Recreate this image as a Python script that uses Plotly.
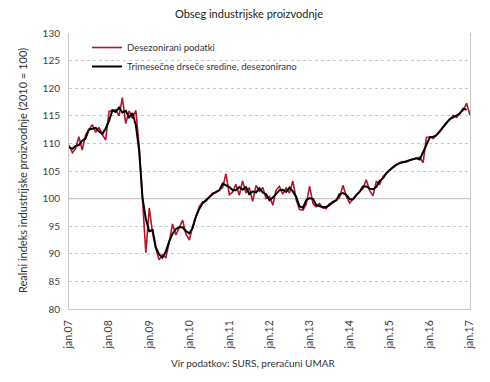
import pandas as pd
import plotly.graph_objects as go

months = pd.date_range("2007-01-01", "2017-01-01", freq="MS")

desezonirani = [
    109.7, 108.3, 109.0, 111.2, 108.8, 111.5, 112.5, 113.4, 112.0, 112.9, 111.6, 110.6,
    115.8, 116.0, 116.1, 115.0, 118.3, 113.6, 115.9, 114.5, 116.0, 109.5, 100.5, 90.2,
    98.3, 93.7, 91.0, 88.9, 89.8, 89.3, 92.0, 95.4, 93.4, 94.8, 96.1, 93.6,
    92.5, 95.0, 96.5, 98.5, 99.4, 99.5, 100.3, 101.0, 101.1, 101.5, 102.0, 104.5,
    100.7, 101.2, 102.6, 100.6, 103.2, 101.0, 102.0, 99.5, 102.4, 101.3, 102.0, 100.0,
    100.4, 98.8, 101.5, 102.2, 100.8, 101.9, 101.0, 103.2, 99.8, 98.0, 97.9, 99.0,
    102.2, 99.1, 98.5, 99.1, 98.3, 98.2, 99.1, 99.2, 99.8, 100.2, 102.4, 100.4,
    99.2, 100.0, 100.6, 101.3, 101.8, 103.4, 101.5, 100.5, 103.1, 102.6, 104.0, 104.6,
    105.2, 105.8, 106.1, 106.5, 106.7, 106.6, 107.0, 107.2, 107.3, 107.5, 106.5, 111.1,
    111.2, 110.9, 111.5, 112.1, 113.0, 113.8, 114.3, 115.1, 114.7, 115.6, 116.0, 117.3,
    115.1,
]

drsece = [
    109.3, 109.0, 109.5, 109.7, 110.5, 110.9, 112.5, 112.6, 112.8, 112.2, 111.7, 112.7,
    114.1, 116.0, 115.7, 116.5, 115.6, 115.9, 114.7, 115.5, 113.3, 108.7, 100.1, 96.3,
    94.1, 94.3, 91.2, 89.9, 89.3, 90.4, 92.2, 93.6, 94.5, 94.8, 94.8, 94.1,
    93.7, 94.7, 96.7, 98.1, 99.1, 99.7, 100.3, 100.8, 101.2, 101.5, 102.7, 102.4,
    102.1, 101.5, 101.5, 102.1, 101.6, 102.1, 100.8, 101.3, 101.1, 101.9, 101.1, 100.8,
    99.7, 100.2, 100.8, 101.5, 101.6, 101.2, 102.0, 101.3, 100.3, 98.6, 98.3, 99.7,
    100.1, 99.9, 98.9, 98.6, 98.5, 98.5, 98.8, 99.4, 99.7, 100.8, 101.0, 100.7,
    99.9, 99.9, 100.6, 101.2, 102.2, 102.2, 101.8, 101.7, 102.1, 103.2, 103.7, 104.6,
    105.2, 105.7, 106.1, 106.4, 106.6, 106.8, 106.9, 107.2, 107.3, 107.1, 108.4, 109.6,
    111.1, 111.2, 111.5, 112.2, 113.0, 113.7, 114.4, 114.7, 115.1, 115.4, 116.3, 116.1,
    None,
]

tick_years = list(range(2007, 2018))
tick_vals = [pd.Timestamp(f"{y}-01-01") for y in tick_years]
tick_text = [f"jan.{str(y)[2:]}" for y in tick_years]

FONT = "Lato"
GRID = "#c8c8c8"

fig = go.Figure()
fig.add_trace(go.Scatter(
    x=months, y=desezonirani, mode="lines", name="Desezonirani podatki",
    line=dict(color="#b5152b", width=1.6), legendgroup="a",
))
fig.add_trace(go.Scatter(
    x=months, y=drsece, mode="lines", name="Trimesečne drseče sredine, desezonirano",
    line=dict(color="#000000", width=2), legendgroup="b",
))

fig.add_shape(type="line", xref="paper", yref="y", x0=0, x1=1, y0=100, y1=100,
              line=dict(color="#c8c8c8", width=1.2), layer="below")

fig.update_layout(
    width=482, height=374,
    margin=dict(l=61, r=20, t=25, b=73),
    paper_bgcolor="white", plot_bgcolor="white",
    font=dict(family=FONT, size=10, color="#404040"),
    title=dict(text="Obseg industrijske proizvodnje", x=0.5, xref="container",
               y=0.984, yanchor="middle", font=dict(family=FONT, size=11, color="#222")),
    showlegend=True,
    legend=dict(x=0.045, y=1.0, xanchor="left", yanchor="top",
                bgcolor="rgba(0,0,0,0)", font=dict(family=FONT, size=9.5, color="#333"),
                tracegroupgap=0, itemwidth=30),
    xaxis=dict(
        type="date", range=[pd.Timestamp("2007-01-01"), pd.Timestamp("2017-01-01")],
        tickmode="array", tickvals=tick_vals, ticktext=tick_text, tickangle=-90,
        showgrid=False, showline=True, linecolor=GRID, linewidth=1,
        ticks="", ticklen=0, ticklabelstandoff=6, tickfont=dict(size=10.5, color="#404040"),
    ),
    yaxis=dict(
        range=[80, 130], dtick=5, tick0=80,
        showgrid=True, gridcolor=GRID, griddash="dot", gridwidth=1,
        showline=True, linecolor=GRID, linewidth=1, mirror=True,
        zeroline=False, ticks="", ticklen=0, ticklabelstandoff=6,
        tickfont=dict(size=10, color="#404040"),
    ),
    annotations=[
        dict(text="Realni indeks industrijske proizvodnje (2010 = 100)", textangle=-90,
             xref="paper", yref="paper", x=-0.117, y=0.5, xanchor="center", showarrow=False,
             font=dict(family=FONT, size=11, color="#333")),
        dict(text="Vir podatkov: SURS, preračuni UMAR", xref="paper", yref="paper",
             x=0.459, y=-0.195, yanchor="middle", showarrow=False,
             font=dict(family=FONT, size=10, color="#333")),
    ],
)

fig.write_html("out.html")
